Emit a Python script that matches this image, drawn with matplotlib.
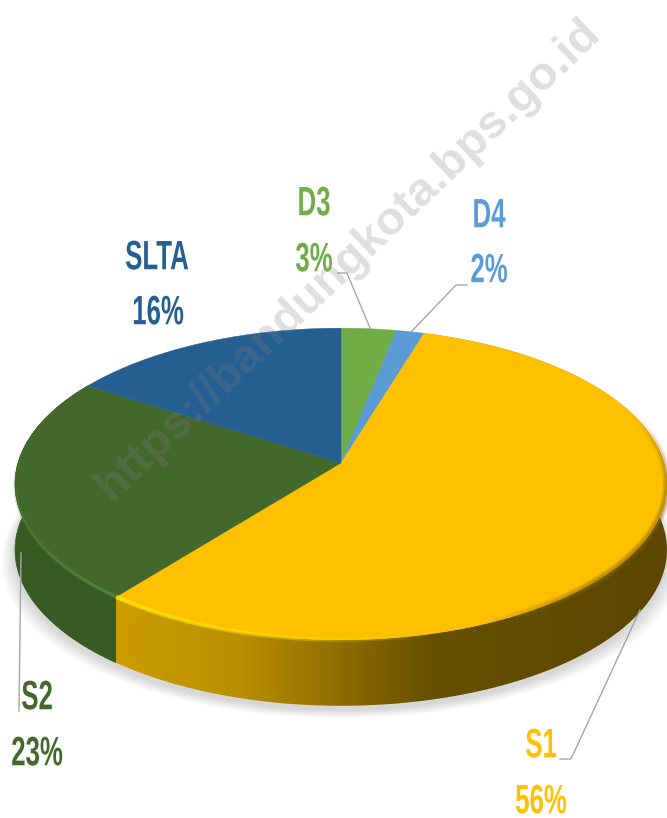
import numpy as np
import matplotlib
matplotlib.use("Agg")
import matplotlib.pyplot as plt
from matplotlib.patches import Polygon
from matplotlib.collections import LineCollection
from matplotlib.colors import LinearSegmentedColormap, to_rgb
from matplotlib.patheffects import AbstractPathEffect
from matplotlib.transforms import Affine2D

categories = ["D3", "D4", "S1", "S2", "SLTA"]
values = [3.1, 1.6, 56.0, 23.4, 15.9]
percent_labels = ["3%", "2%", "56%", "23%", "16%"]
colors = ["#70ad47", "#5b9bd5", "#ffc000", "#43682b", "#255e91"]
label_pos = [(314, 203), (489, 215), (541, 745), (37, 697), (157, 257)]
pct_pos = [(314, 259), (489, 270), (541, 801), (37, 753), (158, 312)]
leaders = [[(370, 328), (347, 273), (338, 273)],
           [(412, 331), (456, 285), (467, 285)],
           [(640, 610), (571, 759), (560, 759)],
           [(21, 553), (19, 711)],
           None]
watermark = "https://bandungkota.bps.go.id"

CX, CY, A, B, K, DEPTH = 341, 463, 323, 153, 0.1346, 66
FONT = ["Liberation Sans", "DejaVu Sans"]
HEIGHT = 818


class Condense(AbstractPathEffect):
    """Reshape a text's glyphs about its anchor (no condensed face is installed)."""

    def __init__(self, x_px, y_px, fx, fy):
        super().__init__()
        self.x, self.y, self.fx, self.fy = x_px, HEIGHT - y_px, fx, fy

    def draw_path(self, renderer, gc, tpath, affine, rgbFace=None):
        squeeze = (Affine2D().translate(-self.x, -self.y).scale(self.fx, self.fy)
                   .translate(self.x, self.y - 1))
        renderer.draw_path(gc, tpath, affine + squeeze, rgbFace)


def rim(theta):
    """Perspective projection of a point on the pie rim; theta clockwise from top, degrees."""
    t = np.radians(theta)
    x, y = np.sin(t), np.cos(t)
    w = 1 + K * y
    return CX + A * x / w, CY - B * y / w


fig = plt.figure(figsize=(6.67, 8.18), dpi=100)
ax = fig.add_axes([0, 0, 1, 1])
ax.set_xlim(0, 667)
ax.set_ylim(818, 0)
ax.axis("off")

edges = np.concatenate([[0], np.cumsum(values)]) * 3.6 * 100 / sum(values)
full = np.linspace(0, 360, 361)
fx, fy = rim(full)

# soft shadow below the disc
for grow in np.linspace(14, 1, 10):
    ax.add_patch(Polygon(np.c_[CX + (fx - CX) * (1 + grow / 330), fy + DEPTH + 4 + grow * 0.6],
                         fc="black", ec="none", alpha=0.014, zorder=1))


def side(i):
    th = np.linspace(edges[i], edges[i + 1], 200)
    x, y = rim(th)
    return np.r_[x, x[::-1]], np.r_[y, y[::-1] + DEPTH]


# S1 side with the horizontal light gradient
px, py = side(2)
cmap = LinearSegmentedColormap.from_list(
    "s1", [(0.0, "#cf9f00"), (0.25, "#b98e00"), (0.42, "#8f6d00"), (0.58, "#665000"), (1.0, "#5c4600")])
im = ax.imshow(np.linspace(0, 1, 256)[None, :], extent=(100, 667, 818, 0), cmap=cmap,
               aspect="auto", zorder=2.1)
clip = Polygon(np.c_[px, py], transform=ax.transData, fc="none", ec="none")
ax.add_patch(clip)
im.set_clip_path(clip)

# S2 side
px, py = side(3)
ax.add_patch(Polygon(np.c_[px, py], fc="#365a22", ec="#365a22", lw=0.5, zorder=2))
ax.set_xlim(0, 667)
ax.set_ylim(818, 0)

# top faces
for i, c in enumerate(colors):
    th = np.linspace(edges[i], edges[i + 1], 200)
    x, y = rim(th)
    ax.add_patch(Polygon(np.c_[np.r_[CX, x], np.r_[CY, y]], fc=c, ec=c, lw=0.3, zorder=3))


# bevel on the rim
def bevel(t0, t1, rgba_fn, lw):
    th = np.linspace(t0, t1, 240)
    x, y = rim(th)
    pts = np.c_[x, y]
    segs = np.stack([pts[:-1], pts[1:]], axis=1)
    frac = np.linspace(0, 1, len(segs))
    ax.add_collection(LineCollection(segs, colors=[rgba_fn(f) for f in frac], linewidths=lw,
                                     capstyle="butt", zorder=4))


y1 = to_rgb("#ffe800")
d1 = to_rgb("#8a6a00")
g1 = to_rgb("#5c9140")
bevel(edges[3], edges[3] - 55, lambda f: (*y1, 0.9 * (1 - f)), 3)
for lw, a in [(6, 0.25), (3.5, 0.35)]:
    bevel(edges[3] - 60, 70, lambda f: (*d1, a * np.clip(4 * f, 0, 1) * np.clip(3 * (1 - f), 0, 1)), lw)
bevel(edges[3], edges[3] + 55, lambda f: (*g1, 0.75 * (1 - f)), 2.5)

# watermark
ax.text(349, 260, watermark, rotation=43.6, rotation_mode="anchor", ha="center", va="center",
        fontsize=34, fontweight="bold", family=FONT, color="#808080", alpha=0.25, zorder=6)

# leader lines and labels
for i, name in enumerate(categories):
    if leaders[i] is not None:
        xs, ys = zip(*leaders[i])
        ax.plot(xs, ys, color="#a6a6a6", lw=1, zorder=5)
    for pos, s in ((label_pos[i], name), (pct_pos[i], percent_labels[i])):
        t = ax.text(*pos, s, color=colors[i], fontsize=21, fontweight="bold", family=FONT,
                    ha="center", va="center", zorder=7)
        t.set_path_effects([Condense(pos[0], pos[1], 0.885, 1.405)])

fig.savefig("out.png", dpi=100, facecolor="white")
